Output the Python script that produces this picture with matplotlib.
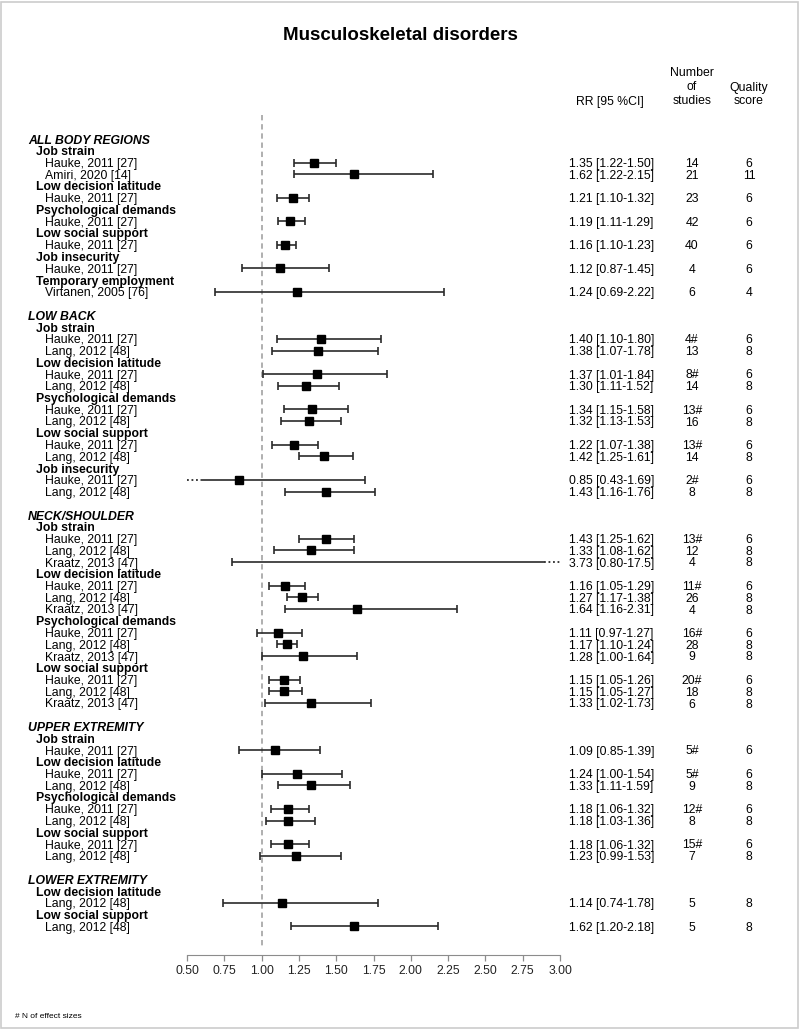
import matplotlib
matplotlib.use("Agg")
import matplotlib.pyplot as plt
import matplotlib.transforms as mtransforms
from matplotlib.patches import Rectangle
import numpy as np

plt.rcParams['font.family'] = ['Liberation Sans', 'DejaVu Sans']

# row layout: kind, label
row_kinds = ['group', 'sub', 'study', 'study', 'sub', 'study', 'sub', 'study', 'sub', 'study',
             'sub', 'study', 'sub', 'study', 'blank',
             'group', 'sub', 'study', 'study', 'sub', 'study', 'study', 'sub', 'study', 'study',
             'sub', 'study', 'study', 'sub', 'study', 'study', 'blank',
             'group', 'sub', 'study', 'study', 'study', 'sub', 'study', 'study', 'study',
             'sub', 'study', 'study', 'study', 'sub', 'study', 'study', 'study', 'blank',
             'group', 'sub', 'study', 'sub', 'study', 'study', 'sub', 'study', 'study',
             'sub', 'study', 'study', 'blank',
             'group', 'sub', 'study', 'sub', 'study']
row_labels = ['ALL BODY REGIONS', 'Job strain', 'Hauke, 2011 [27]', 'Amiri, 2020 [14]',
              'Low decision latitude', 'Hauke, 2011 [27]', 'Psychological demands', 'Hauke, 2011 [27]',
              'Low social support', 'Hauke, 2011 [27]', 'Job insecurity', 'Hauke, 2011 [27]',
              'Temporary employment', 'Virtanen, 2005 [76]', '',
              'LOW BACK', 'Job strain', 'Hauke, 2011 [27]', 'Lang, 2012 [48]',
              'Low decision latitude', 'Hauke, 2011 [27]', 'Lang, 2012 [48]',
              'Psychological demands', 'Hauke, 2011 [27]', 'Lang, 2012 [48]',
              'Low social support', 'Hauke, 2011 [27]', 'Lang, 2012 [48]',
              'Job insecurity', 'Hauke, 2011 [27]', 'Lang, 2012 [48]', '',
              'NECK/SHOULDER', 'Job strain', 'Hauke, 2011 [27]', 'Lang, 2012 [48]', 'Kraatz, 2013 [47]',
              'Low decision latitude', 'Hauke, 2011 [27]', 'Lang, 2012 [48]', 'Kraatz, 2013 [47]',
              'Psychological demands', 'Hauke, 2011 [27]', 'Lang, 2012 [48]', 'Kraatz, 2013 [47]',
              'Low social support', 'Hauke, 2011 [27]', 'Lang, 2012 [48]', 'Kraatz, 2013 [47]', '',
              'UPPER EXTREMITY', 'Job strain', 'Hauke, 2011 [27]',
              'Low decision latitude', 'Hauke, 2011 [27]', 'Lang, 2012 [48]',
              'Psychological demands', 'Hauke, 2011 [27]', 'Lang, 2012 [48]',
              'Low social support', 'Hauke, 2011 [27]', 'Lang, 2012 [48]', '',
              'LOWER EXTREMITY', 'Low decision latitude', 'Lang, 2012 [48]',
              'Low social support', 'Lang, 2012 [48]']

# values for the study rows, in order
rr = [1.35, 1.62, 1.21, 1.19, 1.16, 1.12, 1.24,
      1.40, 1.38, 1.37, 1.30, 1.34, 1.32, 1.22, 1.42, 0.85, 1.43,
      1.43, 1.33, 3.73, 1.16, 1.27, 1.64, 1.11, 1.17, 1.28, 1.15, 1.15, 1.33,
      1.09, 1.24, 1.33, 1.18, 1.18, 1.18, 1.23,
      1.14, 1.62]
ci_low = [1.22, 1.22, 1.10, 1.11, 1.10, 0.87, 0.69,
          1.10, 1.07, 1.01, 1.11, 1.15, 1.13, 1.07, 1.25, 0.43, 1.16,
          1.25, 1.08, 0.80, 1.05, 1.17, 1.16, 0.97, 1.10, 1.00, 1.05, 1.05, 1.02,
          0.85, 1.00, 1.11, 1.06, 1.03, 1.06, 0.99,
          0.74, 1.20]
ci_high = [1.50, 2.15, 1.32, 1.29, 1.23, 1.45, 2.22,
           1.80, 1.78, 1.84, 1.52, 1.58, 1.53, 1.38, 1.61, 1.69, 1.76,
           1.62, 1.62, 17.5, 1.29, 1.38, 2.31, 1.27, 1.24, 1.64, 1.26, 1.27, 1.73,
           1.39, 1.54, 1.59, 1.32, 1.36, 1.32, 1.53,
           1.78, 2.18]
n_studies = ['14', '21', '23', '42', '40', '4', '6',
             '4#', '13', '8#', '14', '13#', '16', '13#', '14', '2#', '8',
             '13#', '12', '4', '11#', '26', '4', '16#', '28', '9', '20#', '18', '6',
             '5#', '5#', '9', '12#', '8', '15#', '7',
             '5', '5']
quality = ['6', '11', '6', '6', '6', '6', '4',
           '6', '8', '6', '8', '6', '8', '6', '8', '6', '8',
           '6', '8', '8', '6', '8', '8', '6', '8', '8', '6', '8', '8',
           '6', '6', '8', '6', '8', '6', '8',
           '8', '8']

ticks = [0.50, 0.75, 1.00, 1.25, 1.50, 1.75, 2.00, 2.25, 2.50, 2.75, 3.00]

W, H = 800, 1029
fig = plt.figure(figsize=(W / 100, H / 100), dpi=100)

# pixel geometry of the plot area
row0_px, step_px = 139, 11.75
top_px, bot_px = 115, 955
x0_px, x1_px = 187, 560
ax = fig.add_axes([x0_px / W, 1 - bot_px / H, (x1_px - x0_px) / W, (bot_px - top_px) / H])
ax.set_xlim(0.5, 3.0)
ax.set_ylim((bot_px - row0_px) / step_px, (top_px - row0_px) / step_px)

for s in ['top', 'right', 'left']:
    ax.spines[s].set_visible(False)
ax.spines['bottom'].set_color('#8c8c8c')
ax.spines['bottom'].set_bounds(0.5, 3.0)
ax.set_yticks([])
ax.set_xticks(ticks)
ax.set_xticklabels(['%.2f' % t for t in ticks])
ax.tick_params(axis='x', colors='#8c8c8c', length=4, width=0.9, labelsize=8.7,
               labelcolor='#222222', pad=3)

ax.plot([1, 1], [(top_px - row0_px) / step_px, (948 - row0_px) / step_px],
        color='#9a9a9a', lw=1.1, dashes=(3.5, 2.5), clip_on=False)

lab_tr = mtransforms.blended_transform_factory(fig.transFigure, ax.transData)
fs = 8.8
va = 'center_baseline'
indent = {'group': 28, 'sub': 36, 'study': 45}
k = 0
lc = '#2a2a2a'
for r, (kind, lab) in enumerate(zip(row_kinds, row_labels)):
    if kind == 'blank':
        continue
    if kind == 'group':
        ax.text(indent[kind] / W, r, lab, transform=lab_tr, fontsize=fs, fontweight='bold',
                fontstyle='italic', va=va, ha='left')
        continue
    if kind == 'sub':
        ax.text(indent[kind] / W, r, lab, transform=lab_tr, fontsize=fs, fontweight='bold',
                va=va, ha='left')
        continue
    ax.text(indent[kind] / W, r, lab, transform=lab_tr, fontsize=fs, va=va, ha='left')

    est, lo, hi = rr[k], ci_low[k], ci_high[k]
    left_cut = lo < 0.5
    right_cut = hi > 3.0
    a = 0.595 if left_cut else lo
    b = 2.89 if right_cut else hi
    ax.plot([a, b], [r, r], color=lc, lw=1.2, solid_capstyle='butt')
    if left_cut:
        ax.plot([0.5, a], [r, r], color=lc, lw=1.3, ls=(0, (1, 1.5)))
    else:
        ax.plot([lo], [r], marker='|', color=lc, ms=6, mew=1.2)
    if right_cut:
        ax.plot([b, 3.0], [r, r], color=lc, lw=1.3, ls=(0, (1, 1.5)))
    else:
        ax.plot([hi], [r], marker='|', color=lc, ms=6, mew=1.2)
    if 0.5 <= est <= 3.0:
        ax.plot([est], [r], marker='s', color='black', ms=6.3, zorder=5)

    ax.text(569 / W, r, '%.2f [%.2f-%s]' % (est, lo, ('%.1f' % hi) if hi > 10 else ('%.2f' % hi)),
            transform=lab_tr, fontsize=fs, va=va, ha='left')
    ax.text(692 / W, r, n_studies[k], transform=lab_tr, fontsize=fs, va=va, ha='center')
    ax.text(749 / W, r, quality[k], transform=lab_tr, fontsize=fs, va=va, ha='center')
    k += 1

# column headers
def fy(px):
    return 1 - px / H

fig.text(610 / W, fy(100), 'RR [95 %CI]', fontsize=fs, ha='center', va=va)
fig.text(692 / W, fy(72), 'Number', fontsize=fs, ha='center', va=va)
fig.text(692 / W, fy(86), 'of', fontsize=fs, ha='center', va=va)
fig.text(692 / W, fy(100), 'studies', fontsize=fs, ha='center', va=va)
fig.text(749 / W, fy(87), 'Quality', fontsize=fs, ha='center', va=va)
fig.text(749 / W, fy(100), 'score', fontsize=fs, ha='center', va=va)

fig.text(0.5, fy(34), 'Musculoskeletal disorders', fontsize=13.5, fontweight='bold',
         ha='center', va=va)
fig.text(15 / W, fy(1016), '# N of effect sizes', fontsize=6, ha='left', va=va)

fig.patches.append(Rectangle((0.001, 0.001), 0.997, 0.997, transform=fig.transFigure,
                             fill=False, edgecolor='#cccccc', lw=1.2))

fig.savefig('out.png', dpi=100)
